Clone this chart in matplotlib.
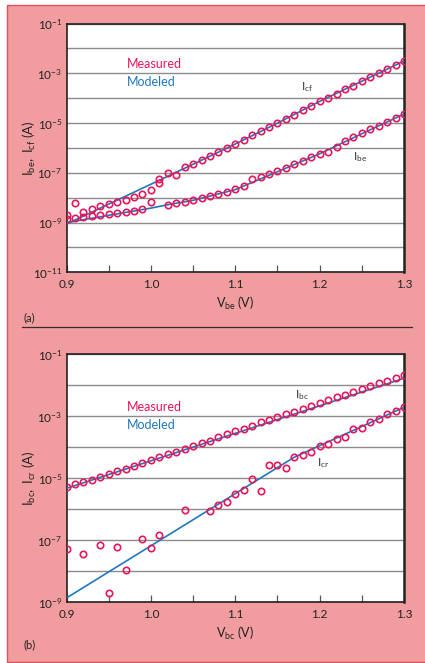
import numpy as np
import matplotlib
matplotlib.use("Agg")
import matplotlib.pyplot as plt
from matplotlib.patches import Rectangle
from matplotlib.lines import Line2D
from matplotlib.ticker import FixedLocator, FixedFormatter, MultipleLocator

plt.rcParams['font.family'] = ['Lato', 'DejaVu Sans']
plt.rcParams['mathtext.fontset'] = 'custom'
plt.rcParams['mathtext.rm'] = 'Lato'
plt.rcParams['mathtext.it'] = 'Lato'

# Data
v = np.round(np.arange(0.90, 1.305, 0.01), 2)

# panel (a) measured
icf_meas = [2.0e-9, 6.3e-9, 2.7e-9, 3.4e-9, 4.6e-9, 5.5e-9, 6.5e-9, 8.0e-9, 1.1e-8, 1.4e-8,
            2.0e-8, 5.4e-8, 1.0e-7, 8.4e-8, 1.75e-7, 2.2e-7, 3.2e-7, 4.6e-7, 7.0e-7, 9.8e-7,
            1.43e-6, 2.07e-6, 3.3e-6, 4.9e-6, 7.1e-6, 9.9e-6, 1.48e-5, 2.2e-5, 3.2e-5, 4.8e-5,
            7.4e-5, 1.04e-4, 1.5e-4, 2.23e-4, 3.2e-4, 4.8e-4, 7.0e-4, 1.01e-3, 1.5e-3, 2.1e-3,
            3.1e-3]
ibe_meas = [1.35e-9, 1.48e-9, 1.7e-9, 1.9e-9, 2.0e-9, 2.2e-9, 2.5e-9, 2.65e-9, 3.0e-9, 3.6e-9,
            6.9e-9, 4.0e-8, 5.2e-9, 6.1e-9, 6.5e-9, 8.0e-9, 1.0e-8, 1.2e-8, 1.44e-8, 1.68e-8,
            2.15e-8, 3.0e-8, 5.6e-8, 6.9e-8, 8.6e-8, 1.14e-7, 1.6e-7, 2.2e-7, 3.05e-7, 4.4e-7,
            5.6e-7, 6.6e-7, 1.11e-6, 1.82e-6, 2.8e-6, 3.8e-6, 5.5e-6, 7.5e-6, 1.09e-5, 1.53e-5,
            2.3e-5]

# panel (a) modeled
icf_model_v = [0.90, 1.01, 1.05, 1.10, 1.15, 1.20, 1.25, 1.30]
icf_model = [8.7e-10, 5.0e-8, 2.2e-7, 1.43e-6, 9.9e-6, 7.4e-5, 4.8e-4, 3.1e-3]
ibe_model_v = [0.90, 0.95, 1.00, 1.02, 1.05, 1.10, 1.15, 1.20, 1.25, 1.30]
ibe_model = [9.9e-10, 1.95e-9, 3.8e-9, 5.2e-9, 7.8e-9, 2.1e-8, 1.1e-7, 5.8e-7, 3.7e-6, 2.3e-5]

# panel (b) measured
ibc_meas = [5.1e-6, 6.6e-6, 7.8e-6, 9.1e-6, 1.13e-5, 1.42e-5, 1.68e-5, 2.05e-5, 2.5e-5, 3.1e-5,
            3.8e-5, 4.9e-5, 6.1e-5, 7.1e-5, 8.8e-5, 1.1e-4, 1.35e-4, 1.64e-4, 2.1e-4, 2.6e-4,
            3.3e-4, 4.0e-4, 5.0e-4, 6.4e-4, 7.6e-4, 9.3e-4, 1.16e-3, 1.42e-3, 1.77e-3, 2.15e-3,
            2.7e-3, 3.4e-3, 4.1e-3, 5.0e-3, 6.1e-3, 7.6e-3, 9.5e-3, 1.16e-2, 1.42e-2, 1.72e-2,
            2.1e-2]
icr_v = [0.90, 0.92, 0.94, 0.95, 0.96, 0.97, 0.99, 1.00, 1.01, 1.04, 1.07, 1.08, 1.09, 1.10,
         1.11, 1.12, 1.13, 1.14, 1.15, 1.16, 1.17, 1.18, 1.19, 1.20, 1.21, 1.22, 1.23, 1.24,
         1.25, 1.26, 1.27, 1.28, 1.29, 1.30]
icr_meas = [5.2e-8, 3.6e-8, 7.1e-8, 1.95e-9, 6.1e-8, 1.1e-8, 1.08e-7, 5.8e-8, 1.52e-7, 9.8e-7,
            8.8e-7, 1.35e-6, 1.68e-6, 3.05e-6, 4.2e-6, 9.8e-6, 3.9e-6, 2.6e-5, 2.6e-5, 2.15e-5,
            4.9e-5, 5.8e-5, 6.9e-5, 1.08e-4, 1.31e-4, 1.86e-4, 2.1e-4, 3.8e-4, 4.1e-4, 6.7e-4,
            8.2e-4, 1.16e-3, 1.45e-3, 1.95e-3]

# panel (b) modeled
ibc_model_v = [0.90, 1.30]
ibc_model = [4.75e-6, 1.68e-2]
icr_model_v = [0.90, 1.17, 1.30]
icr_model = [1.38e-9, 4.8e-5, 1.95e-3]

red = "#E5175C"
blue = "#1F78C0"
pink = "#F19DA0"

fig = plt.figure(figsize=(4.25, 6.63), dpi=100)
fig.patch.set_facecolor("white")
bg = Rectangle((7.3 / 425, 1 - 661.7 / 663), 1.0, 656.4 / 663,
               transform=fig.transFigure, facecolor=pink,
               edgecolor="#E0505C", linewidth=1.0, zorder=-10)
fig.patches.append(bg)
fig.lines.append(Line2D([22 / 425, 412 / 425], [1 - 327.3 / 663] * 2,
                        transform=fig.transFigure, color="#3a2a2a", linewidth=0.9,
                        zorder=-5))


def setup(ax, ymin, ymax, ylabel, xlabel):
    ax.set_facecolor("white")
    ax.set_yscale("log")
    ax.set_xlim(0.9, 1.3)
    ax.set_ylim(ymin, ymax)
    exps = list(range(int(np.log10(ymin)), int(np.log10(ymax)) + 1))
    ax.yaxis.set_major_locator(FixedLocator([10.0 ** e for e in exps]))
    labels = [r"$\mathregular{10^{%d}}$" % e if (e % 2) != 0 else "" for e in exps]
    ax.yaxis.set_major_formatter(FixedFormatter(labels))
    ax.yaxis.set_minor_locator(FixedLocator([]))
    ax.tick_params(axis="y", length=0, pad=3, labelsize=8.5, colors="#222222")
    ax.xaxis.set_major_locator(MultipleLocator(0.1))
    ax.xaxis.set_minor_locator(MultipleLocator(0.05))
    ax.xaxis.set_major_formatter(plt.FuncFormatter(lambda x, p: f"{x:.1f}"))
    ax.tick_params(axis="x", which="both", direction="in", length=5, width=0.9,
                   color="#555555", pad=5, labelsize=8.5, labelcolor="#222222")
    ax.grid(axis="y", which="major", color="#8c8c8c", linewidth=1.0)
    ax.set_axisbelow(True)
    for s in ax.spines.values():
        s.set_linewidth(1.2)
        s.set_color("#222222")
    ax.spines["right"].set_linewidth(1.8)
    ax.set_ylabel(ylabel, fontsize=9.5, color="#222222")
    ax.yaxis.set_label_coords(-0.085, 0.5)
    ax.set_xlabel(xlabel, fontsize=9, labelpad=3, color="#222222")


mk = dict(linestyle="none", marker="o", markersize=4.6, markerfacecolor="none",
          markeredgecolor=red, markeredgewidth=1.2, zorder=4)

# panel (a)
ax1 = fig.add_axes([66.5 / 425, 1 - 272.3 / 663, 337.5 / 425, 248.8 / 663])
setup(ax1, 1e-11, 1e-1, r"$\mathregular{I_{be},\ I_{cf}}$ (A)", r"$\mathregular{V_{be}}$ (V)")
ax1.plot(icf_model_v, icf_model, color=blue, linewidth=1.2, zorder=3)
ax1.plot(ibe_model_v, ibe_model, color=blue, linewidth=1.2, zorder=3)
ax1.plot(v, icf_meas, **mk)
ax1.plot(v, ibe_meas, **mk)
ax1.text(0.179, 0.837, "Measured", color=red, fontsize=9, transform=ax1.transAxes, va="center")
ax1.text(0.179, 0.765, "Modeled", color=blue, fontsize=9, transform=ax1.transAxes, va="center")
ax1.text(1.178, 2.7e-4, r"$\mathregular{I_{cf}}$", fontsize=8.5, color="#333333", va="center")
ax1.text(1.240, 4.1e-7, r"$\mathregular{I_{be}}$", fontsize=8.5, color="#333333", va="center")

# panel (b)
ax2 = fig.add_axes([66.5 / 425, 1 - 602.3 / 663, 337.5 / 425, 248.0 / 663])
setup(ax2, 1e-9, 1e-1, r"$\mathregular{I_{bc},\ I_{cr}}$ (A)", r"$\mathregular{V_{bc}}$ (V)")
ax2.plot(ibc_model_v, ibc_model, color=blue, linewidth=1.2, zorder=3)
ax2.plot(icr_model_v, icr_model, color=blue, linewidth=1.2, zorder=3)
ax2.plot(v, ibc_meas, **mk)
ax2.plot(icr_v, icr_meas, **mk)
ax2.text(0.179, 0.786, "Measured", color=red, fontsize=9, transform=ax2.transAxes, va="center")
ax2.text(0.179, 0.715, "Modeled", color=blue, fontsize=9, transform=ax2.transAxes, va="center")
ax2.text(1.171, 4.9e-3, r"$\mathregular{I_{bc}}$", fontsize=8.5, color="#333333", va="center")
ax2.text(1.197, 3.1e-5, r"$\mathregular{I_{cr}}$", fontsize=8.5, color="#333333", va="center")

fig.text(24 / 425, 1 - 318 / 663, "(a)", fontsize=8, color="#222222", va="center")
fig.text(24 / 425, 1 - 645 / 663, "(b)", fontsize=8, color="#222222", va="center")

fig.savefig("out.png", dpi=100, facecolor=fig.get_facecolor())
